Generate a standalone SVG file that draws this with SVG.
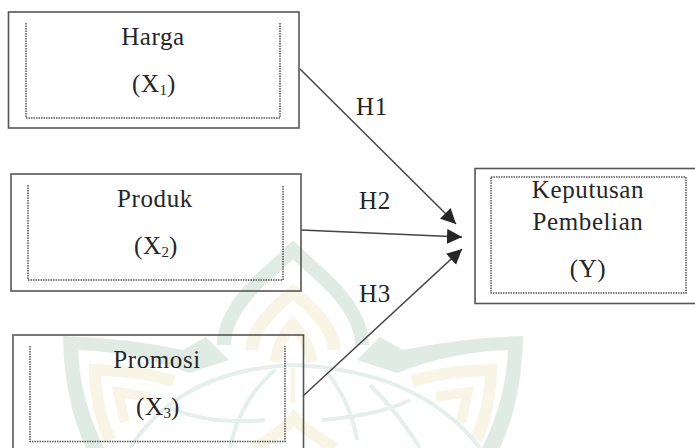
<svg xmlns="http://www.w3.org/2000/svg" width="695" height="448" viewBox="0 0 695 448">
<style>
text{font-family:"Liberation Serif","Times New Roman",serif;font-size:25px;letter-spacing:.6px;fill:#262626;text-anchor:middle}
.sub{font-size:15px;letter-spacing:0}
.box{fill:none;stroke:#555;stroke-width:1.6}
.dot{fill:none;stroke:#555;stroke-width:1.5;stroke-dasharray:1.5 1}
.conn{fill:none;stroke:#444;stroke-width:1.5;marker-end:url(#arrow)}
.wg{fill:none;stroke:#e0ebe6}
.wc{fill:none;stroke:#f8f4e6}
.wl{fill:none;stroke:#e6efeb;stroke-width:4}
.leaf{fill:#e0ebe6}
</style>
<defs>
<marker id="arrow" markerUnits="userSpaceOnUse" markerWidth="16" markerHeight="16" refX="15" refY="7.500" orient="auto">
<path d="M0 0L15 7.500L0 15Z" fill="#262626"/>
</marker>
</defs>
<rect width="695" height="448" fill="#fff"/>
<g id="watermark">
<path class="wg" stroke-width="14" d="M224 345Q224 315 260 280L293 250L326 280Q362 315 362 345"/>
<path class="wc" stroke-width="13" d="M252 350Q252 325 293 292Q334 325 334 350"/>
<path class="wc" stroke-width="11" d="M275 362Q278 340 293 324Q308 340 312 362"/>
<path class="leaf" d="M357 360L380 337L403 350Q460 338 523 336Q522 400 500 448L482 448Q506 400 508 350Q450 352 397 373Z"/>
<path class="leaf" transform="matrix(-1 0 0 1 586 0)" d="M357 360L380 337L403 350Q460 338 523 336Q522 400 500 448L482 448Q506 400 508 350Q450 352 397 373Z"/>
<path class="wc" stroke-width="12" d="M412 381Q450 370 491 370Q490 410 476 440"/>
<path class="wc" stroke-width="10" d="M436 397L468 392L461 422"/>
<path class="wc" stroke-width="12" d="M174 381Q136 370 95 370Q96 410 110 440"/>
<path class="wc" stroke-width="10" d="M150 397L118 392L125 422"/>
<path class="wl" d="M130 448Q180 370 293 365Q420 370 480 448"/>
<path class="wl" d="M170 408Q210 425 265 420M322 420Q380 415 410 400"/>
<path class="wl" d="M230 448Q240 400 275 370M325 370Q350 400 357 440"/>
<path class="wl" d="M370 385Q400 415 420 448"/>
<path class="wc" stroke-width="5" d="M293 368V403"/>
<path class="wc" stroke-width="12" d="M255 448Q285 430 294 418Q305 430 335 448"/>
</g>
<g id="connectors">
<path class="conn" d="M300 69L456 224"/>
<path class="conn" d="M301 230L462 237"/>
<path class="conn" d="M303 396L462 249"/>
<text x="372" y="115">H1</text>
<text x="375" y="209">H2</text>
<text x="375" y="302">H3</text>
</g>
<g id="node-harga">
<rect class="box" x="8.500" y="12" width="290.500" height="116"/>
<path class="dot" d="M26 23V118H280V23"/>
<text x="153" y="45">Harga</text>
<text x="154" y="92">(X<tspan class="sub" dy="3">1</tspan><tspan dy="-3">)</tspan></text>
</g>
<g id="node-produk">
<rect class="box" x="11" y="174" width="290" height="117"/>
<path class="dot" d="M28 185V280H283V185"/>
<text x="155" y="207">Produk</text>
<text x="156" y="254">(X<tspan class="sub" dy="3">2</tspan><tspan dy="-3">)</tspan></text>
</g>
<g id="node-promosi">
<rect class="box" x="13" y="335" width="290.500" height="125"/>
<path class="dot" d="M30 346V441.500H285V346"/>
<text x="157" y="368">Promosi</text>
<text x="158" y="415">(X<tspan class="sub" dy="3">3</tspan><tspan dy="-3">)</tspan></text>
</g>
<g id="node-keputusan">
<rect class="box" x="475" y="168.500" width="230" height="135"/>
<rect class="dot" x="491" y="177" width="195" height="116"/>
<text x="588" y="198">Keputusan</text>
<text x="588" y="230">Pembelian</text>
<text x="588" y="277">(Y)</text>
</g>
</svg>
